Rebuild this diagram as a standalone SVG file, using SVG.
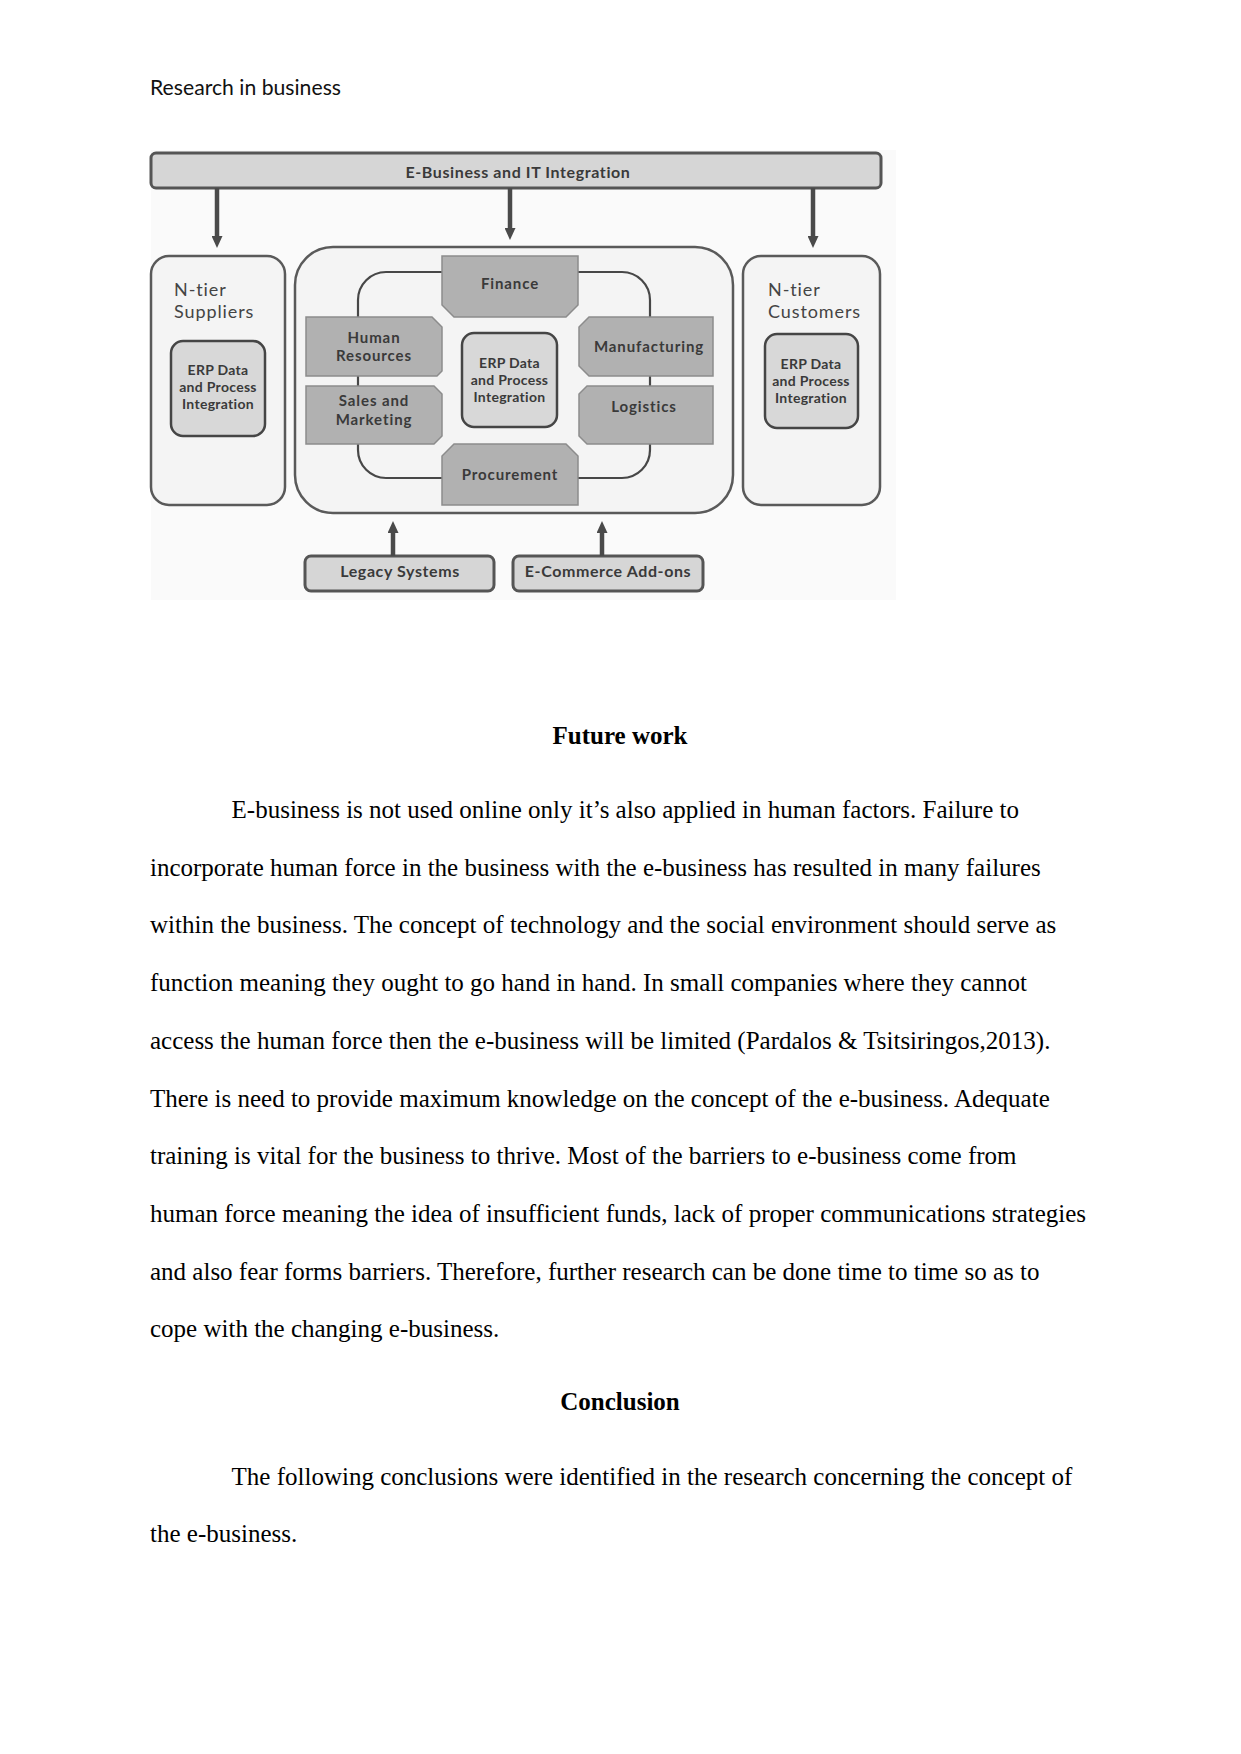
<svg xmlns="http://www.w3.org/2000/svg" width="1241" height="1754" viewBox="0 0 1241 1754">
<style>
  .hdr{font-family:"Lato","Open Sans","Liberation Sans",sans-serif;font-size:22px;fill:#111}
  .body{font-family:"Liberation Serif","Times New Roman",serif;font-size:25px;fill:#000}
  .h{font-family:"Liberation Serif","Times New Roman",serif;font-size:25px;font-weight:bold;fill:#000;text-anchor:middle}
  .lbl{font-family:"Lato","Open Sans","Liberation Sans",sans-serif;font-weight:bold;fill:#3a3a3a;text-anchor:middle}
  .m{font-size:15px;letter-spacing:0.9px}
  .e{font-size:14px;letter-spacing:0.3px}
  .b{font-size:16px;letter-spacing:0.6px}
  .panel{fill:#f4f4f4;stroke:#5a5a5a;stroke-width:2.5}
  .mod{fill:#b1b1b1;stroke:#8c8c8c;stroke-width:1.5}
  .erp{fill:#d8d8d8;stroke:#454545;stroke-width:2.5}
  .bar{fill:#d6d6d6;stroke:#555;stroke-width:3}
  .loop{fill:none;stroke:#474747;stroke-width:2.2}
  .arr{stroke:#4a4a4a;stroke-width:4.5;fill:none}
  .side{font-family:"Lato","Open Sans","Liberation Sans",sans-serif;font-size:18px;fill:#444;letter-spacing:0.9px}
</style>
<defs>
  <marker id="ah" markerUnits="userSpaceOnUse" markerWidth="12" markerHeight="11" viewBox="0 0 12 11" refX="2" refY="5.5" orient="auto">
    <path d="M0,0 L12,5.5 L0,11 z" fill="#4a4a4a"/>
  </marker>
</defs>
<rect width="1241" height="1754" fill="#ffffff"/>
<text class="hdr" x="150" y="95" textLength="191" lengthAdjust="spacingAndGlyphs">Research in business</text>

<rect x="151" y="150" width="745" height="450" fill="#fafafa"/>

<g id="top-bar">
  <rect class="bar" x="151" y="153" width="730" height="35" rx="5"/>
  <text class="lbl b" x="518" y="178">E-Business and IT Integration</text>
</g>

<g id="suppliers">
  <rect class="panel" x="151" y="256" width="134" height="249" rx="18"/>
  <text class="side" x="174" y="296">N-tier</text>
  <text class="side" x="174" y="318">Suppliers</text>
  <rect class="erp" x="171" y="341" width="94" height="95" rx="12"/>
  <text class="lbl e" x="218" y="375">ERP Data</text>
  <text class="lbl e" x="218" y="392">and Process</text>
  <text class="lbl e" x="218" y="409">Integration</text>
</g>

<g id="customers">
  <rect class="panel" x="743" y="256" width="137" height="249" rx="18"/>
  <text class="side" x="768" y="296">N-tier</text>
  <text class="side" x="768" y="318">Customers</text>
  <rect class="erp" x="765" y="334" width="93" height="94" rx="12"/>
  <text class="lbl e" x="811" y="369">ERP Data</text>
  <text class="lbl e" x="811" y="386">and Process</text>
  <text class="lbl e" x="811" y="403">Integration</text>
</g>

<g id="enterprise">
  <rect class="panel" x="295" y="247" width="438" height="266" rx="38"/>
  <rect class="loop" x="358" y="272" width="292" height="206" rx="28"/>
</g>

<g id="finance">
  <polygon class="mod" points="442,256 578,256 578,305 566,317 454,317 442,305"/>
  <text class="lbl m" x="510" y="289">Finance</text>
</g>
<g id="human-resources">
  <polygon class="mod" points="306,317 432,317 442,327 442,371 437,376 306,376"/>
  <text class="lbl m" x="374" y="343">Human</text>
  <text class="lbl m" x="374" y="361">Resources</text>
</g>
<g id="sales-marketing">
  <polygon class="mod" points="306,386 434,386 442,394 442,436 434,444 306,444"/>
  <text class="lbl m" x="374" y="406">Sales and</text>
  <text class="lbl m" x="374" y="425">Marketing</text>
</g>
<g id="manufacturing">
  <polygon class="mod" points="589,317 713,317 713,376 589,376 579,366 579,327"/>
  <text class="lbl m" x="649" y="352">Manufacturing</text>
</g>
<g id="logistics">
  <polygon class="mod" points="587,386 713,386 713,444 587,444 579,436 579,394"/>
  <text class="lbl m" x="644" y="412">Logistics</text>
</g>
<g id="procurement">
  <polygon class="mod" points="454,444 566,444 578,456 578,505 442,505 442,456"/>
  <text class="lbl m" x="510" y="480">Procurement</text>
</g>
<g id="erp-center">
  <rect class="erp" x="462" y="333" width="95" height="94" rx="12"/>
  <text class="lbl e" x="509.5" y="368">ERP Data</text>
  <text class="lbl e" x="509.5" y="385">and Process</text>
  <text class="lbl e" x="509.5" y="402">Integration</text>
</g>

<g id="legacy-systems">
  <rect class="bar" x="305" y="556" width="189" height="35" rx="6"/>
  <text class="lbl b" x="400" y="577">Legacy Systems</text>
</g>
<g id="ecommerce-addons">
  <rect class="bar" x="513" y="556" width="190" height="35" rx="6"/>
  <text class="lbl b" x="608" y="577">E-Commerce Add-ons</text>
</g>

<g id="connectors">
  <line class="arr" x1="217" y1="188" x2="217" y2="238" marker-end="url(#ah)"/>
  <line class="arr" x1="510" y1="188" x2="510" y2="230" marker-end="url(#ah)"/>
  <line class="arr" x1="813" y1="188" x2="813" y2="238" marker-end="url(#ah)"/>
  <line class="arr" x1="393" y1="556" x2="393" y2="531" marker-end="url(#ah)"/>
  <line class="arr" x1="602" y1="556" x2="602" y2="531" marker-end="url(#ah)"/>
</g>

<text class="h" x="620" y="744">Future work</text>
<text class="body" x="231.6" y="818">E-business is not used online only it’s also applied in human factors. Failure to</text>
<text class="body" x="150" y="875.7">incorporate human force in the business with the e-business has resulted in many failures</text>
<text class="body" x="150" y="933.4">within the business. The concept of technology and the social environment should serve as</text>
<text class="body" x="150" y="991.1">function meaning they ought to go hand in hand. In small companies where they cannot</text>
<text class="body" x="150" y="1048.8">access the human force then the e-business will be limited (Pardalos &amp; Tsitsiringos,2013).</text>
<text class="body" x="150" y="1106.5">There is need to provide maximum knowledge on the concept of the e-business. Adequate</text>
<text class="body" x="150" y="1164.2">training is vital for the business to thrive. Most of the barriers to e-business come from</text>
<text class="body" x="150" y="1221.9">human force meaning the idea of insufficient funds, lack of proper communications strategies</text>
<text class="body" x="150" y="1279.6">and also fear forms barriers. Therefore, further research can be done time to time so as to</text>
<text class="body" x="150" y="1337.3">cope with the changing e-business.</text>
<text class="h" x="620" y="1410">Conclusion</text>
<text class="body" x="231.6" y="1485">The following conclusions were identified in the research concerning the concept of</text>
<text class="body" x="150" y="1542">the e-business.</text>
</svg>
